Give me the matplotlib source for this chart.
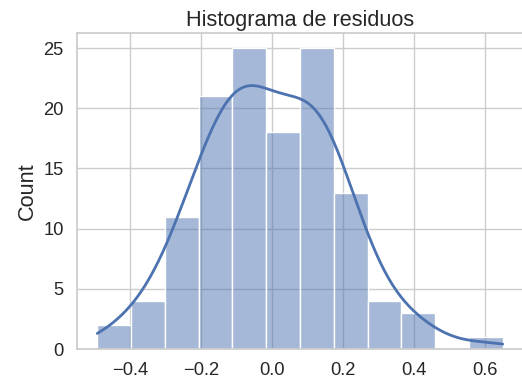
import numpy as np
import seaborn as sns
import matplotlib.pyplot as plt

# Residual histogram: bin edges and counts per bin
bin_edges = [-0.493, -0.398, -0.303, -0.207, -0.112, -0.017, 0.079,
             0.174, 0.270, 0.365, 0.460, 0.556, 0.651]
counts = [2, 4, 11, 21, 25, 18, 25, 13, 4, 3, 0, 1]
centers = [(a + b) / 2 for a, b in zip(bin_edges[:-1], bin_edges[1:])]

sns.set_theme(style="whitegrid", font_scale=1.2)
plt.rcParams["font.family"] = ["Liberation Sans", "DejaVu Sans"]

fig = plt.figure(figsize=(5.22, 3.83), dpi=100)
ax = fig.add_axes([77 / 522, 34 / 383, 446 / 522, 316 / 383])

sns.histplot(x=centers, weights=counts, bins=bin_edges, kde=True,
             kde_kws={"cut": 3, "clip": (bin_edges[0], bin_edges[-1]),
                      "bw_adjust": 0.6},
             line_kws={"linewidth": 2}, ax=ax)

ax.set_title("Histograma de residuos", fontsize=15.6, pad=5)
ax.set_ylabel("Count", fontsize=15.6)
ax.set_xlabel("")
ax.tick_params(labelsize=13.2)

fig.savefig("out.png", dpi=100)
